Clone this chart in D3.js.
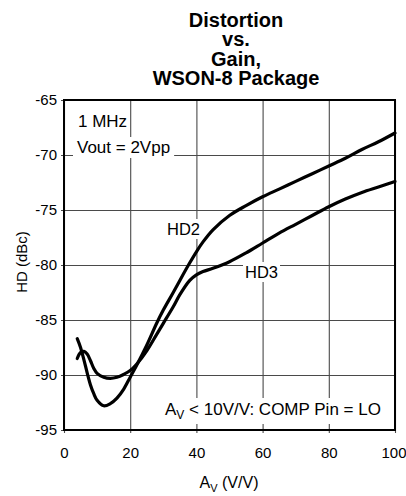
<!DOCTYPE html>
<html>
<head>
<meta charset="utf-8">
<script src="https://cdn.jsdelivr.net/npm/d3@7/dist/d3.min.js"></script>
<style>
  html, body { margin: 0; padding: 0; background: #fff; }
  svg { display: block; font-family: "Liberation Sans", Arial, Helvetica, sans-serif; }
</style>
</head>
<body>
<script>
// Gain sweep (V/V) and harmonic distortion (dBc) for each harmonic
const gain = [4, 5, 6, 7, 8, 9, 10, 12, 14, 16, 18, 20, 22, 25, 28, 30, 33, 35, 38, 40, 42, 45, 50, 55, 60, 65, 70, 75, 80, 85, 90, 95, 100];
const hd2 = [-86.7, -87.5, -88.6, -89.8, -90.9, -91.7, -92.3, -92.8, -92.6, -92.1, -91.3, -90.2, -89.1, -87.3, -85.3, -84.1, -82.5, -81.4, -79.8, -78.8, -77.9, -76.8, -75.5, -74.6, -73.8, -73.1, -72.4, -71.7, -71.0, -70.3, -69.5, -68.8, -68.0];
const hd3 = [-88.5, -87.95, -87.85, -88.1, -88.7, -89.4, -89.85, -90.2, -90.3, -90.2, -89.95, -89.6, -89.0, -87.8, -86.3, -85.3, -83.8, -82.7, -81.4, -80.9, -80.6, -80.3, -79.7, -78.9, -78.0, -77.1, -76.3, -75.5, -74.7, -74.0, -73.4, -72.9, -72.4];

const xTicks = [0, 20, 40, 60, 80, 100];
const yTicks = [-95, -90, -85, -80, -75, -70, -65];
const titleLines = ["Distortion", "vs.", "Gain,", "WSON-8 Package"];

const W = 406, H = 496;
const plot = { left: 64, top: 100, right: 395, bottom: 430 };
const FONT = "'Liberation Sans', Arial, Helvetica, sans-serif";

const svg = d3.select("body").append("svg").attr("width", W).attr("height", H);

const x = d3.scaleLinear().domain([0, 100]).range([plot.left, plot.right]);
const y = d3.scaleLinear().domain([-95, -65]).range([plot.bottom, plot.top]);

// plain hyphen for negative tick values
const fmt = d => (d < 0 ? "-" : "") + Math.abs(d);

// Title
const title = svg.append("text")
  .attr("text-anchor", "middle")
  .attr("font-weight", "bold")
  .attr("font-size", 20);
titleLines.forEach((t, i) => {
  title.append("tspan").attr("x", 236).attr("y", 27 + i * 19.4).text(t);
});

// Grid via axes
const pw = plot.right - plot.left, ph = plot.bottom - plot.top;

const xAxis = svg.append("g")
  .attr("transform", `translate(0,${plot.bottom})`)
  .call(d3.axisBottom(x).tickValues(xTicks).tickSize(-ph).tickPadding(17).tickFormat(fmt));
const yAxis = svg.append("g")
  .attr("transform", `translate(${plot.left},0)`)
  .call(d3.axisLeft(y).tickValues(yTicks).tickSize(-pw).tickPadding(7).tickFormat(fmt));

[xAxis, yAxis].forEach(g => {
  g.select(".domain").remove();
  g.selectAll(".tick line").attr("stroke", "#4a4a4a").attr("stroke-width", 1.1);
  g.selectAll(".tick text").attr("font-size", 15).attr("fill", "#000").attr("font-family", FONT);
});
// gridlines poke slightly outside the frame
xAxis.selectAll(".tick line").attr("y1", 3);
yAxis.selectAll(".tick line").attr("x1", -3);
// keep the last x label inside the page
xAxis.selectAll(".tick text").filter(d => d === 100).attr("dx", -1.5);

// Text with white backing boxes
function boxedText(px, py, str, size, pad) {
  const g = svg.append("g");
  const r = g.append("rect").attr("fill", "#fff");
  const t = g.append("text").attr("x", px).attr("y", py).attr("font-size", size).attr("fill", "#000");
  str(t);
  const b = t.node().getBBox();
  r.attr("x", b.x - pad[0]).attr("y", b.y - pad[1])
   .attr("width", b.width + 2 * pad[0]).attr("height", b.height + 2 * pad[1]);
  return g;
}

boxedText(78, 127, t => t.text("1 MHz"), 17, [2, 1]);
boxedText(77, 153, t => t.text("Vout = 2Vpp"), 17, [4, 1]);
boxedText(167, 235, t => t.text("HD2"), 16.5, [2, 1]);
boxedText(245, 278, t => t.text("HD3"), 16.5, [2, 1]);
boxedText(165, 415, t => {
  t.append("tspan").text("A");
  t.append("tspan").attr("font-size", 12).attr("dy", 4).text("V");
  t.append("tspan").attr("dy", -4).text(" < 10V/V: COMP Pin = LO");
}, 17, [2, 2]);

// Curves
const line = d3.line()
  .x(d => x(d[0]))
  .y(d => y(d[1]))
  .curve(d3.curveCatmullRom.alpha(0.5));

[hd2, hd3].forEach(vals => {
  svg.append("path")
    .datum(gain.map((g, i) => [g, vals[i]]))
    .attr("fill", "none")
    .attr("stroke", "#000")
    .attr("stroke-width", 3.2)
    .attr("stroke-linejoin", "round")
    .attr("stroke-linecap", "round")
    .attr("d", line);
});

// Frame
svg.append("rect")
  .attr("x", plot.left).attr("y", plot.top)
  .attr("width", pw).attr("height", ph)
  .attr("fill", "none").attr("stroke", "#000").attr("stroke-width", 2);

// Axis titles
const xl = svg.append("text").attr("x", 229).attr("y", 488).attr("text-anchor", "middle").attr("font-size", 16);
xl.append("tspan").text("A");
xl.append("tspan").attr("font-size", 11).attr("dy", 4).text("V");
xl.append("tspan").attr("dy", -4).text(" (V/V)");

svg.append("text")
  .attr("transform", `translate(27,${262}) rotate(-90)`)
  .attr("text-anchor", "middle")
  .attr("font-size", 15)
  .text("HD (dBc)");
</script>
</body>
</html>
